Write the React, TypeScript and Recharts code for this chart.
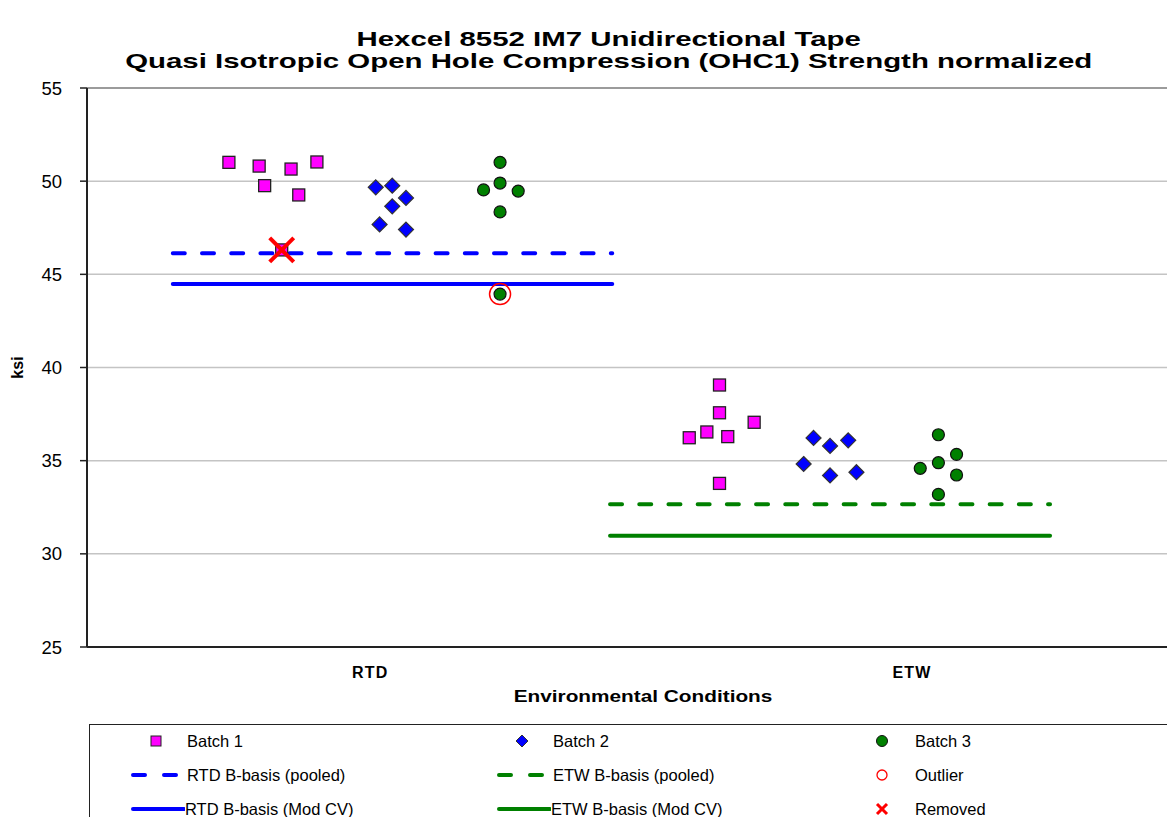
import React from 'react';
import { ScatterChart, Scatter, XAxis, YAxis, CartesianGrid, ReferenceLine, Label } from 'recharts';

// x positions are jitter offsets around each condition (RTD ~0.5, ETW ~1.5)
const CATEGORIES = ['RTD', 'ETW'];
const CATEGORY_X = [0.515, 1.5];
const Y_TICKS = [25, 30, 35, 40, 45, 50, 55];

const BATCH1 = [
  { x: 0.258, y: 51.01 }, { x: 0.313, y: 50.81 }, { x: 0.323, y: 49.76 },
  { x: 0.371, y: 50.65 }, { x: 0.385, y: 49.26 }, { x: 0.418, y: 51.03 },
  { x: 0.354, y: 46.31 },
  { x: 1.15, y: 39.06 }, { x: 1.15, y: 37.57 }, { x: 1.213, y: 37.06 },
  { x: 1.127, y: 36.54 }, { x: 1.165, y: 36.29 }, { x: 1.095, y: 36.23 },
  { x: 1.15, y: 33.78 },
];
const BATCH2 = [
  { x: 0.525, y: 49.67 }, { x: 0.555, y: 49.76 }, { x: 0.58, y: 49.1 },
  { x: 0.555, y: 48.65 }, { x: 0.532, y: 47.68 }, { x: 0.58, y: 47.4 },
  { x: 1.321, y: 36.22 }, { x: 1.351, y: 35.79 }, { x: 1.384, y: 36.09 },
  { x: 1.303, y: 34.82 }, { x: 1.351, y: 34.21 }, { x: 1.399, y: 34.38 },
];
const BATCH3 = [
  { x: 0.751, y: 51.01 }, { x: 0.751, y: 49.9 }, { x: 0.721, y: 49.53 },
  { x: 0.784, y: 49.47 }, { x: 0.751, y: 48.35 }, { x: 0.751, y: 43.94 },
  { x: 1.548, y: 36.39 }, { x: 1.581, y: 35.34 }, { x: 1.548, y: 34.89 },
  { x: 1.515, y: 34.59 }, { x: 1.581, y: 34.23 }, { x: 1.548, y: 33.19 },
];
const OUTLIERS = [{ x: 0.751, y: 43.94 }];
const REMOVED = [{ x: 0.354, y: 46.31 }];

// B-basis values and the x span each line covers
const RTD_POOLED = 46.13;
const RTD_MODCV = 44.48;
const ETW_POOLED = 32.66;
const ETW_MODCV = 30.97;
const RTD_SPAN: [number, number] = [0.156, 0.955];
const ETW_SPAN: [number, number] = [0.951, 1.751];

const FONT = '"Liberation Sans", Arial, sans-serif';
const DASH = '12 17.2';

const Square = (p: any) => (
  <rect x={p.cx - 6} y={p.cy - 6} width={12} height={12} fill="#FF00FF" stroke="#222" strokeWidth={1.3} />
);
const Diamond = (p: any) => (
  <polygon
    points={`${p.cx},${p.cy - 7.5} ${p.cx + 7.5},${p.cy} ${p.cx},${p.cy + 7.5} ${p.cx - 7.5},${p.cy}`}
    fill="#0000FF" stroke="#333" strokeWidth={1.2}
  />
);
const Dot = (p: any) => <circle cx={p.cx} cy={p.cy} r={6} fill="#008000" stroke="#111" strokeWidth={1.2} />;
const Ring = (p: any) => <circle cx={p.cx} cy={p.cy} r={10.5} fill="none" stroke="#FF0000" strokeWidth={1.5} />;
const Cross = (p: any) => (
  <g stroke="#FF0000" strokeWidth={4}>
    <line x1={p.cx - 12} y1={p.cy - 12} x2={p.cx + 12} y2={p.cy + 12} />
    <line x1={p.cx - 12} y1={p.cy + 12} x2={p.cx + 12} y2={p.cy - 12} />
  </g>
);

const XTitle = (props: any) => {
  const vb = props.viewBox;
  const cx = vb.x + vb.width / 2 + 6;
  const cy = vb.y + 55;
  return (
    <text transform={`translate(${cx},${cy}) scale(1.3,1)`} textAnchor="middle"
      style={{ fontSize: 16, fontWeight: 'bold', fill: '#000', fontFamily: FONT }}>
      Environmental Conditions
    </text>
  );
};

const YTitle = (props: any) => {
  const vb = props.viewBox;
  const cy = vb.y + vb.height / 2;
  return (
    <text transform={`translate(17,${cy}) rotate(-90)`} textAnchor="middle" dominantBaseline="central"
      style={{ fontSize: 16, fontWeight: 'bold', fill: '#000', fontFamily: FONT }}>
      ksi
    </text>
  );
};

function LegendBox() {
  const row = (y: number): React.CSSProperties => ({ position: 'absolute', top: y, height: 20, display: 'flex', alignItems: 'center' });
  const text: React.CSSProperties = { fontSize: 16.5, fontFamily: FONT, color: '#000', whiteSpace: 'nowrap' };
  const icon = (children: React.ReactNode) => (
    <svg width={60} height={20} style={{ display: 'block' }}>{children}</svg>
  );
  return (
    <div style={{ position: 'absolute', left: 89, top: 724, width: 1200, height: 140, borderTop: '1.5px solid #222', borderLeft: '1.5px solid #222' }}>
      <div style={{ ...row(6), left: 35 }}>
        {icon(<rect x={26} y={5} width={10} height={10} fill="#FF00FF" stroke="#222" />)}
        <span style={{ ...text, marginLeft: 2 }}>Batch 1</span>
      </div>
      <div style={{ ...row(6), left: 401 }}>
        {icon(<polygon points="31,4 37,10 31,16 25,10" fill="#0000FF" stroke="#333" />)}
        <span style={{ ...text, marginLeft: 2 }}>Batch 2</span>
      </div>
      <div style={{ ...row(6), left: 761 }}>
        {icon(<circle cx={31} cy={10} r={5.5} fill="#008000" stroke="#111" />)}
        <span style={{ ...text, marginLeft: 4 }}>Batch 3</span>
      </div>

      <div style={{ ...row(40), left: 35 }}>
        {icon(<line x1={8} y1={10} x2={54} y2={10} stroke="#0000FF" strokeWidth={4} strokeLinecap="round" strokeDasharray="12 19" />)}
        <span style={{ ...text, marginLeft: 2 }}>RTD B-basis (pooled)</span>
      </div>
      <div style={{ ...row(40), left: 401 }}>
        {icon(<line x1={8} y1={10} x2={54} y2={10} stroke="#008000" strokeWidth={4} strokeLinecap="round" strokeDasharray="12 19" />)}
        <span style={{ ...text, marginLeft: 2 }}>ETW B-basis (pooled)</span>
      </div>
      <div style={{ ...row(40), left: 761 }}>
        {icon(<circle cx={31} cy={10} r={5} fill="none" stroke="#FF0000" strokeWidth={1.3} />)}
        <span style={{ ...text, marginLeft: 4 }}>Outlier</span>
      </div>

      <div style={{ ...row(74), left: 35 }}>
        {icon(<line x1={8} y1={10} x2={59} y2={10} stroke="#0000FF" strokeWidth={4} strokeLinecap="round" />)}
        <span style={{ ...text }}>RTD B-basis (Mod CV)</span>
      </div>
      <div style={{ ...row(74), left: 401 }}>
        {icon(<line x1={8} y1={10} x2={59} y2={10} stroke="#008000" strokeWidth={4} strokeLinecap="round" />)}
        <span style={{ ...text }}>ETW B-basis (Mod CV)</span>
      </div>
      <div style={{ ...row(74), left: 761 }}>
        {icon(
          <g stroke="#FF0000" strokeWidth={3}>
            <line x1={26} y1={5} x2={36} y2={15} />
            <line x1={26} y1={15} x2={36} y2={5} />
          </g>
        )}
        <span style={{ ...text, marginLeft: 4 }}>Removed</span>
      </div>
    </div>
  );
}

export default function App() {
  return (
    <div style={{ position: 'relative', width: 1175, height: 825, overflow: 'hidden', margin: -8, background: '#fff' }}>
      <div style={{ position: 'absolute', left: 0, width: 1217, top: 28, textAlign: 'center', fontFamily: FONT, fontWeight: 'bold', fontSize: 21, lineHeight: '22px', color: '#000', transform: 'scaleX(1.4)', transformOrigin: '608px 0' }}>
        <div>Hexcel 8552 IM7 Unidirectional Tape</div>
        <div>Quasi Isotropic Open Hole Compression (OHC1) Strength normalized</div>
      </div>
      <ScatterChart width={1200} height={825} margin={{ top: 88, right: 13, bottom: 118, left: 0 }}>
        <CartesianGrid horizontal vertical={false} stroke="#c4c4c4" strokeWidth={1.5} />
        <XAxis
          type="number"
          dataKey="x"
          domain={[0, 2]}
          ticks={CATEGORY_X}
          tickFormatter={(v: number) => CATEGORIES[CATEGORY_X.indexOf(v)] ?? ''}
          tickLine={false}
          tickMargin={14}
          height={60}
          axisLine={{ stroke: '#222', strokeWidth: 2 }}
          tick={{ fontSize: 16, fontWeight: 'bold', fill: '#000', fontFamily: FONT, letterSpacing: 1.2 }}
        >
          <Label content={XTitle} />
        </XAxis>
        <YAxis
          type="number"
          dataKey="y"
          domain={[25, 55]}
          ticks={Y_TICKS}
          width={87}
          tickSize={7}
          tickMargin={18}
          axisLine={{ stroke: '#222', strokeWidth: 2 }}
          tickLine={{ stroke: '#222', strokeWidth: 1.5 }}
          tick={{ fontSize: 18.5, fill: '#000', fontFamily: FONT }}
        >
          <Label content={YTitle} />
        </YAxis>
        <ReferenceLine y={55} stroke="#888" strokeWidth={1.5} />
        <ReferenceLine segment={[{ x: RTD_SPAN[0], y: RTD_POOLED }, { x: RTD_SPAN[1], y: RTD_POOLED }]} stroke="#0000FF" strokeWidth={4} strokeDasharray={DASH} strokeLinecap="round" />
        <ReferenceLine segment={[{ x: RTD_SPAN[0], y: RTD_MODCV }, { x: RTD_SPAN[1], y: RTD_MODCV }]} stroke="#0000FF" strokeWidth={4} strokeLinecap="round" />
        <ReferenceLine segment={[{ x: ETW_SPAN[0], y: ETW_POOLED }, { x: ETW_SPAN[1], y: ETW_POOLED }]} stroke="#008000" strokeWidth={4} strokeDasharray={DASH} strokeLinecap="round" />
        <ReferenceLine segment={[{ x: ETW_SPAN[0], y: ETW_MODCV }, { x: ETW_SPAN[1], y: ETW_MODCV }]} stroke="#008000" strokeWidth={4} strokeLinecap="round" />
        <Scatter name="Batch 1" data={BATCH1} shape={Square} isAnimationActive={false} />
        <Scatter name="Batch 2" data={BATCH2} shape={Diamond} isAnimationActive={false} />
        <Scatter name="Batch 3" data={BATCH3} shape={Dot} isAnimationActive={false} />
        <Scatter name="Outlier" data={OUTLIERS} shape={Ring} isAnimationActive={false} />
        <Scatter name="Removed" data={REMOVED} shape={Cross} isAnimationActive={false} />
      </ScatterChart>
      <LegendBox />
    </div>
  );
}
